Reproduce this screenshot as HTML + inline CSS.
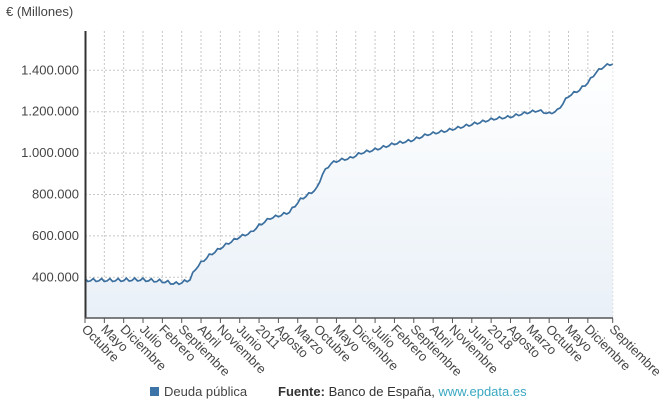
<!DOCTYPE html>
<html><head><meta charset="utf-8"><style>
body{margin:0;background:#fff;font-family:"Liberation Sans",sans-serif;}
svg text{font-family:"Liberation Sans",sans-serif;}
</style></head><body>
<svg id="c" width="661" height="411" xmlns="http://www.w3.org/2000/svg">
<defs><linearGradient id="g" x1="0" y1="0" x2="0" y2="1"><stop offset="0" stop-color="#ffffff"/><stop offset="1" stop-color="#e9f0f7"/></linearGradient></defs>
<text x="6" y="16" font-size="13" fill="#444">€ (Millones)</text>
<g id="grid"></g>
<path id="area" fill="url(#g)"/>
<path id="line" fill="none" stroke="#3a6f9f" stroke-width="1.7"/>
<line x1="85.5" y1="31" x2="85.5" y2="318" stroke="#333" stroke-width="2"/>
<line x1="85" y1="318" x2="613" y2="318" stroke="#555" stroke-width="1.5"/>
<g id="labs"></g>
<rect x="150" y="387" width="9" height="9" fill="#3d74a8"/>
<text x="164" y="396" font-size="13" fill="#444">Deuda pública</text>
<text x="278" y="396" font-size="13" fill="#333"><tspan font-weight="bold">Fuente:</tspan> Banco de España, <tspan fill="#3aa8c1">www.epdata.es</tspan></text>
</svg>
<script>
var ns="http://www.w3.org/2000/svg";
function X(m){return 85+m*(612.7-85)/191;}
function Y(v){return 277.3-(v-400)/200*41.4;}
var grid=document.getElementById('grid'),labs=document.getElementById('labs');
function el(t,a,p){var e=document.createElementNS(ns,t);for(var k in a)e.setAttribute(k,a[k]);p.appendChild(e);return e;}
[400,600,800,1000,1200,1400].forEach(function(v){el('line',{x1:85,x2:613,y1:Y(v),y2:Y(v),stroke:'#c8c8c8','stroke-dasharray':'2,2'},grid);
var t=el('text',{x:79,y:Y(v)+4,'font-size':13,fill:'#444','text-anchor':'end'},grid);t.textContent=v<1000?v+'.000':'1.'+(v-1000===0?'000':(v-1000))+'.000';});
var names=['Octubre','Mayo','Diciembre','Julio','Febrero','Septiembre','Abril','Noviembre','Junio','2011','Agosto','Marzo','Octubre','Mayo','Diciembre','Julio','Febrero','Septiembre','Abril','Noviembre','Junio','2018','Agosto','Marzo','Octubre','Mayo','Diciembre'];
var ms=[];for(var i=0;i<names.length;i++)ms.push(i*7);names.push('Septiembre');ms.push(191);
ms.forEach(function(m,i){var x=X(m);
if(i>0)el('line',{x1:x,x2:x,y1:31,y2:318,stroke:'#c8c8c8','stroke-dasharray':'2,2'},grid);
el('line',{x1:x,x2:x,y1:318,y2:323,stroke:'#555'},grid);
var t=el('text',{x:x-4,y:330,'font-size':13,fill:'#444',transform:'rotate(45 '+(x-4)+' 330)'},labs);t.textContent=names[i];});
var K=[[0,385],[10,385],[20,388],[28,380],[33,368],[36,378],[38,390],[40,440],[42,470],[45,505],[49,540],[52,565],[56,595],[60,615],[63,650],[67,685],[71,700],[74,715],[78,775],[82,810],[84,830],[86,900],[89,950],[92,965],[96,975],[100,1000],[106,1020],[112,1045],[118,1060],[124,1090],[130,1105],[136,1125],[142,1145],[148,1165],[154,1175],[160,1195],[164,1205],[168,1190],[171,1205],[175,1275],[179,1305],[182,1340],[185,1390],[188,1420],[191,1432]];
function val(m){for(var i=0;i<K.length-1;i++){if(m<=K[i+1][0]){var a=K[i],b=K[i+1];return a[1]+(b[1]-a[1])*(m-a[0])/(b[0]-a[0]);}}return K[K.length-1][1];}
var d='';for(var m=0;m<=191;m++){var v=val(m)+((m%3===0)?7:(m%3===1?-4:-2))*(m<40?1.3:1);d+=(m?'L':'M')+X(m).toFixed(1)+','+Y(v).toFixed(1);}
document.getElementById('line').setAttribute('d',d);
document.getElementById('area').setAttribute('d',d+'L'+X(191)+',318L85,318Z');
</script>
</body></html>
